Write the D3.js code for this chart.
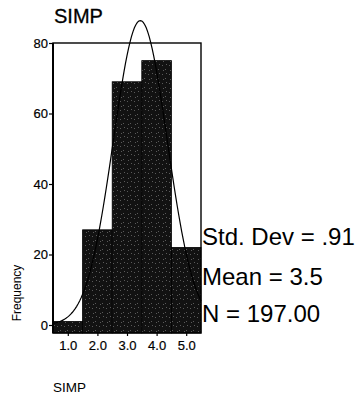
<!DOCTYPE html>
<html>
<head>
<meta charset="utf-8">
<script src="https://cdn.jsdelivr.net/npm/d3@7"></script>
<style>
  html, body { margin: 0; padding: 0; background: #fff; }
  svg { display: block; }
  text { font-family: "Liberation Sans", Arial, sans-serif; fill: #000; }
</style>
</head>
<body>
<svg id="chart" width="362" height="397"></svg>
<script>
// ---- data ----
const categories = [1, 2, 3, 4, 5];
const counts = [1, 27, 69, 75, 22];
const xTickLabels = ["1.0", "2.0", "3.0", "4.0", "5.0"];
const yTicks = [0, 20, 40, 60, 80];
const statsLabels = ["Std. Dev = .91", "Mean = 3.5", "N = 197.00"];
const curveMean = 3.45;
const curveSD = 0.91;
const curveN = 197;
const binWidth = 1;

// ---- layout ----
const svg = d3.select("#chart");
const pLeft = 53, pRight = 201, pTop = 43, pBottom = 333;

const x = d3.scaleLinear().domain([0.5, 5.5]).range([pLeft, pRight]);
const y = d3.scaleLinear().domain([-2.27, 80]).range([pBottom, pTop]);

// texture pattern for bars (scanned look)
const defs = svg.append("defs");
const pat = defs.append("pattern").attr("id", "tex").attr("patternUnits", "userSpaceOnUse")
  .attr("width", 7).attr("height", 9);
pat.append("rect").attr("width", 7).attr("height", 9).attr("fill", "#121212");
[[1,2],[4,6],[5,1],[2,7]].forEach(([a,b]) =>
  pat.append("rect").attr("x", a).attr("y", b).attr("width", 1).attr("height", 1).attr("fill", "#5a5a5a"));

// title
svg.append("text").attr("x", 54).attr("y", 23).attr("font-size", 20)
  .attr("stroke", "#000").attr("stroke-width", 0.3).text("SIMP");

// bars
svg.append("g").selectAll("rect").data(categories).join("rect")
  .attr("x", d => x(d - binWidth / 2))
  .attr("width", d => x(d + binWidth / 2) - x(d - binWidth / 2))
  .attr("y", (d, i) => y(counts[i]))
  .attr("height", (d, i) => y(y.domain()[0]) - y(counts[i]))
  .attr("fill", "url(#tex)")
  .attr("stroke", "#000").attr("stroke-width", 0.8);

// frame
svg.append("rect").attr("x", pLeft).attr("y", pTop)
  .attr("width", pRight - pLeft).attr("height", pBottom - pTop)
  .attr("fill", "none").attr("stroke", "#000").attr("stroke-width", 1.4);
svg.append("line").attr("x1", pLeft).attr("x2", pLeft).attr("y1", pTop).attr("y2", pBottom)
  .attr("stroke", "#000").attr("stroke-width", 2);

// normal curve
const pdf = v => Math.exp(-0.5 * ((v - curveMean) / curveSD) ** 2) / (curveSD * Math.sqrt(2 * Math.PI));
const xs = d3.range(0.5, 5.5001, 0.05);
svg.append("path")
  .datum(xs)
  .attr("fill", "none").attr("stroke", "#000").attr("stroke-width", 1.2)
  .attr("d", d3.line().x(v => x(v)).y(v => y(curveN * binWidth * pdf(v))));

// y axis
const yAxis = d3.axisLeft(y).tickValues(yTicks).tickSize(4).tickPadding(1).tickFormat(d3.format("d"));
const gy = svg.append("g").attr("transform", `translate(${pLeft},0)`).call(yAxis);
gy.select(".domain").remove();
gy.selectAll("line").attr("stroke", "#000").attr("stroke-width", 1.2);
gy.selectAll("text").attr("font-size", 13).attr("font-family", "Liberation Sans, Arial, sans-serif")
  .attr("stroke", "#000").attr("stroke-width", 0.2);

// x axis
const xAxis = d3.axisBottom(x).tickValues(categories).tickSize(3).tickPadding(5)
  .tickFormat((d, i) => xTickLabels[i]);
const gx = svg.append("g").attr("transform", `translate(0,${pBottom})`).call(xAxis);
gx.select(".domain").remove();
gx.selectAll("line").attr("stroke", "#000").attr("stroke-width", 1.2);
gx.selectAll("text").attr("font-size", 13).attr("font-family", "Liberation Sans, Arial, sans-serif")
  .attr("stroke", "#000").attr("stroke-width", 0.2);

// axis titles
svg.append("text").attr("transform", "translate(21,293) rotate(-90)")
  .attr("text-anchor", "middle").attr("font-size", 12).text("Frequency");
svg.append("text").attr("x", 53).attr("y", 392).attr("font-size", 13.5).text("SIMP");

// stats
const statY = [245, 285, 322];
svg.append("g").selectAll("text").data(statsLabels).join("text")
  .attr("x", 202).attr("y", (d, i) => statY[i]).attr("font-size", 24).text(d => d);
</script>
</body>
</html>
